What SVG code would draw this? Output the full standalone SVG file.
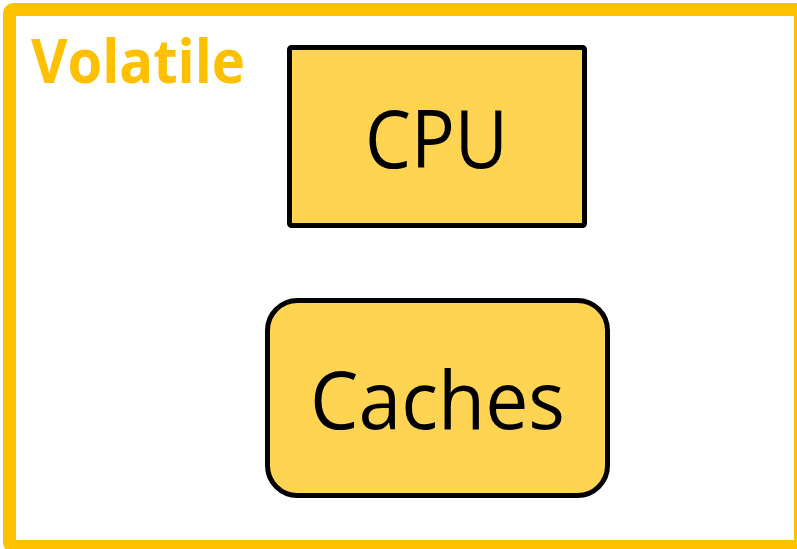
<svg xmlns="http://www.w3.org/2000/svg" width="797" height="549" viewBox="0 0 797 549">
  <style>
    .frame { fill: #FFFFFF; stroke: #FFC000; stroke-width: 13; }
    .box { fill: #FFD452; stroke: #000000; stroke-width: 5; }
    .label { font-family: "Open Sans", "Noto Sans", "Liberation Sans", sans-serif; fill: #000000; text-anchor: middle; }
    .title { font-family: "Open Sans", "Noto Sans", "Liberation Sans", sans-serif; font-weight: bold; fill: #FFC000; }
  </style>
  <rect width="797" height="549" fill="#FFFFFF"/>
  <!-- volatile region frame -->
  <g id="volatile">
    <rect class="frame" x="9.5" y="9.5" width="791" height="537" rx="4"/>
    <text class="title" x="31" y="83" font-size="60" textLength="214" lengthAdjust="spacingAndGlyphs">Volatile</text>
  </g>
  <g id="cpu">
    <rect class="box" x="289.5" y="47.5" width="295" height="178" rx="2"/>
    <text class="label" x="436.5" y="168" font-size="81" textLength="143" lengthAdjust="spacingAndGlyphs">CPU</text>
  </g>
  <g id="caches">
    <rect class="box" x="267.5" y="300.5" width="340" height="195" rx="30"/>
    <text class="label" x="437.5" y="429" font-size="80" textLength="255" lengthAdjust="spacingAndGlyphs">Caches</text>
  </g>
  <g id="connectors"/>
</svg>
